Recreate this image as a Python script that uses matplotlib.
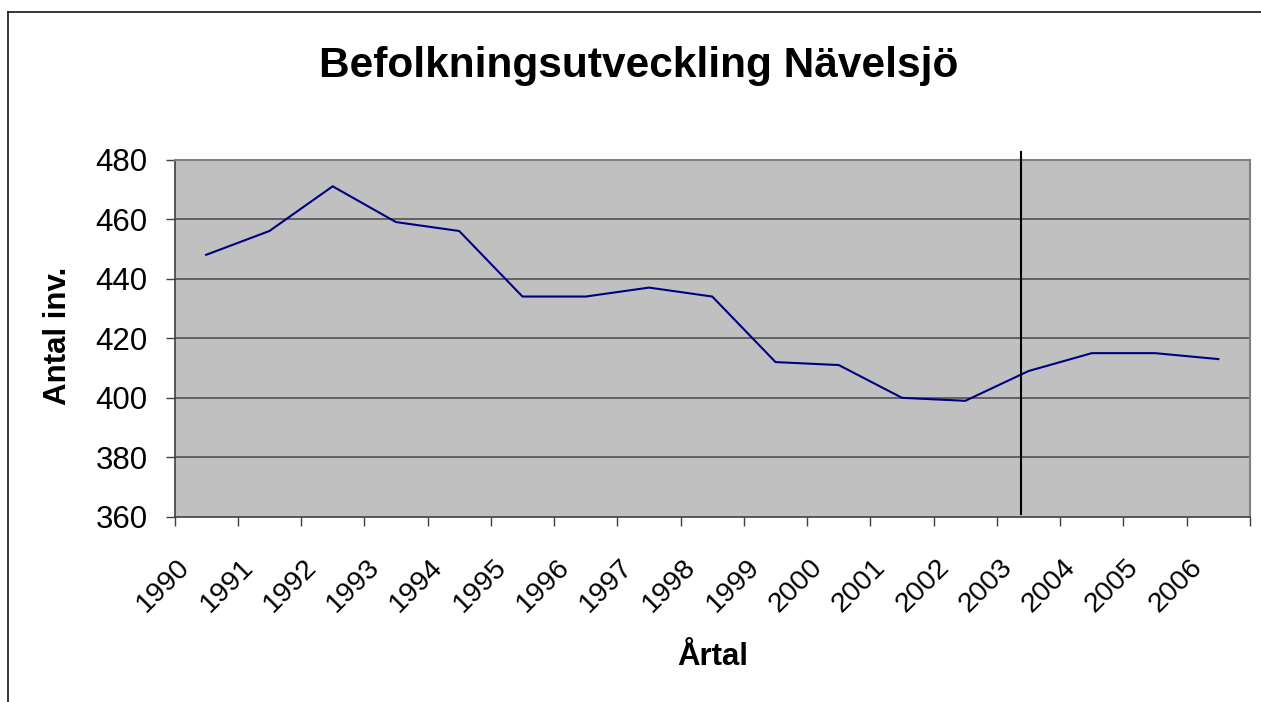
import matplotlib
matplotlib.use("Agg")
import matplotlib.pyplot as plt
import matplotlib.transforms as mtransforms
from matplotlib.lines import Line2D

years = ["1990", "1991", "1992", "1993", "1994", "1995", "1996", "1997", "1998",
         "1999", "2000", "2001", "2002", "2003", "2004", "2005", "2006"]
population = [448, 456, 471, 459, 456, 434, 434, 437, 434,
              412, 411, 400, 399, 409, 415, 415, 413]
y_ticks = [360, 380, 400, 420, 440, 460, 480]
marker_x = 12.875  # vertical marker line position (category units)

W, H = 1261, 702
plt.rcParams['font.family'] = ['Liberation Sans', 'DejaVu Sans']
fig = plt.figure(figsize=(W / 100, H / 100), dpi=100)
fig.patch.set_facecolor('white')

# figure border (top and left visible)
fig.add_artist(Line2D([8 / W, 8 / W], [0, 1 - 12 / H], transform=fig.transFigure,
                      color='black', lw=1.1))
fig.add_artist(Line2D([8 / W, 1], [1 - 12 / H, 1 - 12 / H], transform=fig.transFigure,
                      color='black', lw=1.1))

left, right = 174.5 / W, 1250 / W
bottom, top = 1 - 517 / H, 1 - 159.5 / H
ax = fig.add_axes([left, bottom, right - left, top - bottom])
ax.set_facecolor('#C0C0C0')

x = list(range(len(years)))
ax.plot(x, population, color='#000080', lw=1.5, zorder=3)
ax.set_xlim(-0.5, len(years) - 0.5)
ax.set_ylim(360, 480)

ax.set_yticks(y_ticks)
ax.set_yticklabels([str(v) for v in y_ticks], fontsize=22.5)
ax.tick_params(axis='y', direction='out', length=6.5, width=1, pad=13, color='#404040')
for yv in y_ticks[1:-1]:
    ax.axhline(yv, color='#5a5a5a', lw=1.3, zorder=1)

ax.set_xticks(x)
ax.set_xticklabels(years, fontsize=20.5, rotation=45, ha='right', va='top')
ax.tick_params(axis='x', which='major', length=0, pad=27)
ax.set_xticks([i - 0.5 for i in range(len(years) + 1)], minor=True)
ax.tick_params(axis='x', which='minor', direction='out', length=6.5, width=1, color='#404040')
offset = mtransforms.ScaledTranslation(-11 / 100, 0, fig.dpi_scale_trans)
for lbl in ax.get_xticklabels():
    lbl.set_transform(lbl.get_transform() + offset)

for s in ['left', 'bottom']:
    ax.spines[s].set_color('#404040')
    ax.spines[s].set_linewidth(1.2)
for s in ['top', 'right']:
    ax.spines[s].set_color('#808080')
    ax.spines[s].set_linewidth(1.5)

# vertical marker line extending slightly above plot
trans = mtransforms.blended_transform_factory(ax.transData, fig.transFigure)
ax.add_line(Line2D([marker_x, marker_x], [1 - 152 / H, 1 - 514 / H], transform=trans,
                   color='black', lw=1.5, clip_on=False, zorder=4))

fig.text(639 / W, 1 - 66 / H, "Befolkningsutveckling Nävelsjö", ha='center', va='center',
         fontsize=30.5, fontweight='bold')
fig.text(58 / W, 1 - 336 / H, "Antal inv.", ha='center', va='center', rotation=90,
         fontsize=22.5, fontweight='bold')
fig.text(713 / W, 1 - 657 / H, "Årtal", ha='center', va='center',
         fontsize=22.5, fontweight='bold')

fig.savefig("out.png", dpi=100)
